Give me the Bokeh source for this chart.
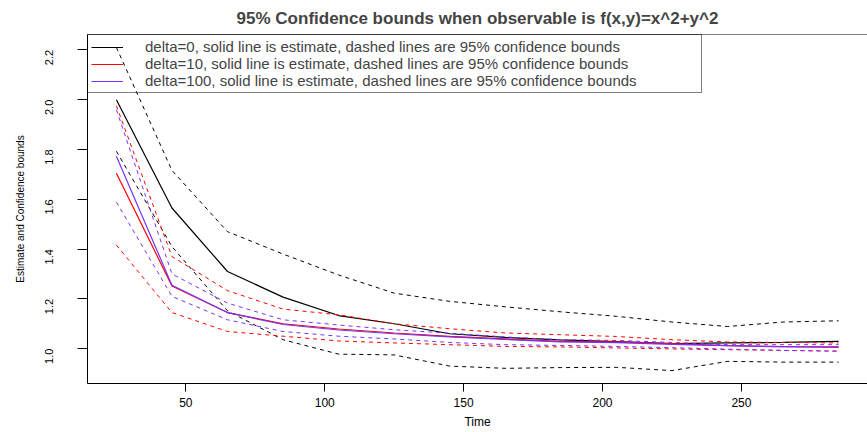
import math
from bokeh.plotting import figure
from bokeh.models import FixedTicker, PrintfTickFormatter, Span, Legend, LegendItem, Range1d
from bokeh.embed import file_html
from bokeh.resources import INLINE

title_text = "95% Confidence bounds when observable is f(x,y)=x^2+y^2"
x_label = "Time"
y_label = "Estimate and Confidence bounds"

time = [25, 45, 65, 85, 105, 125, 145, 165, 185, 205, 225, 245, 265, 285]

est_d0 = [2.00, 1.565, 1.31, 1.207, 1.133, 1.10, 1.06, 1.045, 1.035, 1.028, 1.020, 1.023, 1.025, 1.029]
up_d0 = [2.21, 1.716, 1.47, 1.38, 1.296, 1.223, 1.19, 1.168, 1.148, 1.13, 1.107, 1.089, 1.107, 1.112]
lo_d0 = [1.793, 1.41, 1.152, 1.036, 0.978, 0.975, 0.93, 0.921, 0.924, 0.925, 0.912, 0.949, 0.946, 0.946]

est_d10 = [1.705, 1.252, 1.145, 1.100, 1.079, 1.063, 1.049, 1.039, 1.029, 1.027, 1.020, 1.012, 1.008, 1.007]
up_d10 = [1.976, 1.37, 1.233, 1.159, 1.136, 1.10, 1.08, 1.063, 1.056, 1.049, 1.036, 1.027, 1.025, 1.023]
lo_d10 = [1.416, 1.145, 1.069, 1.05, 1.031, 1.023, 1.016, 1.009, 1.007, 1.003, 0.999, 0.996, 0.993, 0.990]

est_d100 = [1.773, 1.255, 1.145, 1.097, 1.075, 1.060, 1.047, 1.037, 1.027, 1.024, 1.017, 1.012, 1.008, 1.005]
up_d100 = [1.96, 1.30, 1.183, 1.116, 1.095, 1.076, 1.062, 1.047, 1.036, 1.033, 1.025, 1.016, 1.016, 1.016]
lo_d100 = [1.589, 1.21, 1.116, 1.069, 1.05, 1.039, 1.025, 1.016, 1.013, 1.009, 1.004, 0.998, 0.993, 0.990]

x_ticks = [50, 100, 150, 200, 250]
y_ticks = [1.0, 1.2, 1.4, 1.6, 1.8, 2.0, 2.2]

series = [
    ("delta=0, solid line is estimate, dashed lines are 95% confidence bounds", "black", est_d0, lo_d0, up_d0),
    ("delta=10, solid line is estimate, dashed lines are 95% confidence bounds", "red", est_d10, lo_d10, up_d10),
    ("delta=100, solid line is estimate, dashed lines are 95% confidence bounds", "#7433ff", est_d100, lo_d100, up_d100),
]

all_y = [v for s in series for arr in s[2:] for v in arr]
ymin, ymax = min(all_y), max(all_y)
ypad = 0.04 * (ymax - ymin)
xpad = 0.04 * (max(time) - min(time))

FONT = "Liberation Sans"

p = figure(width=867, height=432, output_backend="svg", toolbar_location=None,
           x_range=Range1d(min(time) - xpad, max(time) + xpad),
           y_range=Range1d(ymin - ypad, ymax + ypad),
           min_border_left=87, min_border_right=0, min_border_top=34, min_border_bottom=49)

p.title.text = title_text
p.title.align = "center"
p.title.text_font = FONT
p.title.text_font_size = "17px"
p.title.text_font_style = "bold"
p.title.standoff = 13

p.outline_line_color = None
p.xgrid.visible = False
p.ygrid.visible = False
p.background_fill_color = "white"

for ax in (p.xaxis[0], p.yaxis[0]):
    ax.axis_line_color = "black"
    ax.axis_line_width = 1
    ax.major_tick_line_color = "black"
    ax.minor_tick_line_color = None
    ax.major_tick_in = 0
    ax.major_label_text_font = FONT
    ax.major_label_text_color = "black"
    ax.axis_label_text_font = FONT
    ax.axis_label_text_font_style = "normal"
    ax.axis_label_text_color = "black"

p.xaxis.ticker = FixedTicker(ticks=x_ticks)
p.xaxis.major_tick_out = 8
p.xaxis.major_label_standoff = 6
p.xaxis.major_label_text_font_size = "12px"
p.xaxis.axis_label = x_label
p.xaxis.axis_label_text_font_size = "12px"
p.xaxis.axis_label_standoff = 5

p.yaxis.ticker = FixedTicker(ticks=y_ticks)
p.yaxis.formatter = PrintfTickFormatter(format="%.1f")
p.yaxis.major_tick_out = 10
p.yaxis.major_label_standoff = 28
p.yaxis.major_label_orientation = math.pi / 2
p.yaxis.major_label_text_font_size = "11px"
p.yaxis.axis_label = y_label
p.yaxis.axis_label_text_font_size = "10px"
p.yaxis.axis_label_standoff = 13

p.add_layout(Span(location=ymax + ypad, dimension="width", line_color="black", line_width=1))

items = []
for label, color, est, lo, up in series:
    r = p.line(time, est, line_color=color, line_width=1.2)
    p.line(time, lo, line_color=color, line_width=1, line_dash="4 4")
    p.line(time, up, line_color=color, line_width=1, line_dash="4 4")
    items.append(LegendItem(label=label, renderers=[r]))

legend = Legend(items=items, location="top_left", margin=0, padding=3, spacing=0,
                border_line_color="black", border_line_width=1,
                background_fill_alpha=0,
                label_text_font=FONT, label_text_font_size="15px",
                glyph_width=32, glyph_height=12, label_height=12, label_standoff=22,
                label_width=553)
p.add_layout(legend)

open("out.html", "w").write(file_html(p, INLINE))
